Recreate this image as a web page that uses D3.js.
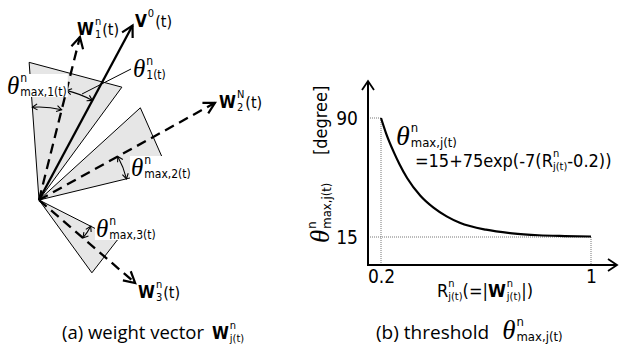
<!DOCTYPE html>
<html>
<head>
<meta charset="utf-8">
<script src="https://cdn.jsdelivr.net/npm/d3@7"></script>
<style>
body { margin: 0; background: #fff; }
svg { display: block; }
</style>
</head>
<body>
<div class="container"></div>
<script>
const WIDTH = 619;
const HEIGHT = 354;

const SANS = '"DejaVu Sans Condensed", "DejaVu Sans", sans-serif';
const SERIF = '"Liberation Serif", "DejaVu Serif", serif';
const CAPTION = '"Open Sans", "DejaVu Sans", sans-serif';

// (a) vectors: V0, W1, W2, W3 -- angle in degrees (counter-clockwise), length
const vectorAngles = [61.8, 75.9, 28.9, -40.8];
const vectorLengths = [198, 168, 201, 127];
const vectorDashed = [false, true, true, true];

// grey sectors round W1, W2, W3: the two edge angles and edge lengths
const sectorAnglesA = [94.1, 42.3, -26.9];
const sectorAnglesB = [53.7, 13.6, -54.0];
const sectorLengthsA = [138, 137, 88];
const sectorLengthsB = [140, 132, 90];

// angle arcs (theta_max,1  theta_1  theta_max,2  theta_max,3): from, to, radius
const arcFrom = [94.1, 75.9, 28.9, -40.8];
const arcTo = [75.9, 61.8, 13.6, -26.9];
const arcRadius = [93, 113, 90, 58];

// (b) threshold curve
const rValues = [0.2, 0.22, 0.25, 0.27, 0.3, 0.35, 0.4, 0.45, 0.5, 0.6, 0.7, 0.8, 0.9, 1.0];
const thetaValues = [90, 80, 68, 61, 52, 41, 33.5, 28, 24, 19.6, 17.3, 16.1, 15.6, 15.3];

const xTickValues = [0.2, 1];
const xTickLabels = ["0.2", "1"];
const yTickValues = [15, 90];

var svg = d3.select('.container').append('svg')
    .attr('width', WIDTH)
    .attr('height', HEIGHT);

var defs = svg.append('defs');

var chevron = function(id, len, half, sw) {
    defs.append('marker')
        .attr('id', id)
        .attr('viewBox', (-len - 2) + ' ' + (-half - 2) + ' ' + (len + 4) + ' ' + (2 * half + 4))
        .attr('refX', 0).attr('refY', 0)
        .attr('markerUnits', 'userSpaceOnUse')
        .attr('markerWidth', len + 4).attr('markerHeight', 2 * half + 4)
        .attr('orient', 'auto-start-reverse')
        .style('overflow', 'visible')
        .append('path')
        .attr('d', 'M' + (-len) + ',' + (-half) + 'L0,0L' + (-len) + ',' + half)
        .attr('fill', 'none')
        .attr('stroke', '#000')
        .attr('stroke-width', sw)
        .attr('stroke-linejoin', 'miter');
};
chevron('vecHead', 11, 6, 2.2);
chevron('axisHead', 9, 6, 1.8);
chevron('arcHead', 5, 3, 1.1);

// one <text> made of tspans; {sup, sub} pieces are stacked at the same x
var richText = function(parent, x, y, parts) {
    var text = parent.append('text').attr('x', x).attr('y', y);
    var cx = x;
    var span = function(str, px, py, p) {
        var s = text.append('tspan').attr('x', px).attr('y', py)
            .style('font-family', p.family || SANS)
            .style('font-size', p.size + 'px')
            .style('font-weight', p.weight || 'normal')
            .style('font-style', p.style || 'normal')
            .text(str);
        return s.node().getComputedTextLength();
    };
    parts.forEach(function(p) {
        if (p.sup !== undefined || p.sub !== undefined) {
            var w = 0;
            if (p.sup) w = Math.max(w, span(p.sup, cx, y - (p.up || 7), p));
            if (p.sub) w = Math.max(w, span(p.sub, cx, y + (p.down || 3), p));
            cx += w + (p.after === undefined ? 1 : p.after);
        } else {
            cx += span(p.t, cx, y, p) + (p.after || 0);
        }
    });
    return text;
};

var theta = function(size) {
    return {t: '\u03B8', family: SERIF, style: 'italic', size: size, after: 1};
};

// ---------- (a) weight vectors ----------
var xA = d3.scaleLinear().domain([0, 100]).range([39, 139]);
var yA = d3.scaleLinear().domain([0, 100]).range([200, 100]);
var rad = function(a) { return a * Math.PI / 180; };
var polar = function(a, r) { return [xA(r * Math.cos(rad(a))), yA(r * Math.sin(rad(a)))]; };
var origin = polar(0, 0);

var panelA = svg.append('g');

panelA.selectAll('path.sector')
    .data(sectorAnglesA.map(function(a, i) { return i; }))
    .enter().append('path')
    .attr('class', 'sector')
    .attr('d', function(i) {
        return d3.line()([origin, polar(sectorAnglesA[i], sectorLengthsA[i]), polar(sectorAnglesB[i], sectorLengthsB[i])]) + 'Z';
    })
    .attr('fill', '#e6e6e6')
    .attr('stroke', '#000')
    .attr('stroke-width', 1);

panelA.selectAll('line.vec')
    .data(vectorAngles.map(function(a, i) { return i; }))
    .enter().append('line')
    .attr('class', 'vec')
    .attr('x1', origin[0]).attr('y1', origin[1])
    .attr('x2', function(i) { return polar(vectorAngles[i], vectorLengths[i])[0]; })
    .attr('y2', function(i) { return polar(vectorAngles[i], vectorLengths[i])[1]; })
    .attr('stroke', '#000')
    .attr('stroke-width', 2.3)
    .attr('stroke-dasharray', function(i) { return vectorDashed[i] ? '10,6' : null; })
    .attr('marker-end', 'url(#vecHead)');

panelA.selectAll('path.arc')
    .data(arcFrom.map(function(a, i) { return i; }))
    .enter().append('path')
    .attr('class', 'arc')
    .attr('d', function(i) {
        var p0 = polar(arcFrom[i], arcRadius[i]);
        var p1 = polar(arcTo[i], arcRadius[i]);
        var sweep = arcTo[i] < arcFrom[i] ? 1 : 0;
        return 'M' + p0[0] + ',' + p0[1] + 'A' + arcRadius[i] + ',' + arcRadius[i] + ' 0 0 ' + sweep + ' ' + p1[0] + ',' + p1[1];
    })
    .attr('fill', 'none')
    .attr('stroke', '#000')
    .attr('stroke-width', 1.1)
    .attr('marker-start', 'url(#arcHead)')
    .attr('marker-end', 'url(#arcHead)');

// leader to theta_1 label
panelA.append('line')
    .attr('x1', 82).attr('y1', 94).attr('x2', 131).attr('y2', 69)
    .attr('stroke', '#000').attr('stroke-width', 1);

var boxed = function(t) {
    var bb = t.node().getBBox();
    panelA.insert('rect', function() { return t.node(); })
        .attr('x', bb.x - 1).attr('y', bb.y + 3)
        .attr('width', bb.width + 2).attr('height', bb.height - 5)
        .attr('fill', '#fff');
    return t;
};

var wLabel = function(x, y, sup, sub) {
    return richText(panelA, x, y, [{t: sup === '0' ? 'V' : 'W', size: 17, weight: 'bold', after: 1},
        {sup: sup, sub: sub, size: 11, up: 10, down: 3}, {t: '(t)', size: 16}]);
};
wLabel(135, 27, '0', '');
wLabel(77, 35, 'n', '1');
wLabel(219, 108, 'N', '2');
wLabel(138, 298, 'n', '3');

richText(panelA, 133, 77, [theta(25), {sup: 'n', sub: '1(t)', size: 12, up: 12, down: 2}]);
boxed(richText(panelA, 7, 94, [theta(25), {sup: 'n', sub: 'max,1(t)', size: 12, up: 12, down: 2}]));
boxed(richText(panelA, 131, 176, [theta(25), {sup: 'n', sub: 'max,2(t)', size: 12, up: 12, down: 2}]));
boxed(richText(panelA, 96, 237, [theta(25), {sup: 'n', sub: 'max,3(t)', size: 12, up: 12, down: 2}]));

// ---------- (b) threshold ----------
var xScale = d3.scaleLinear().domain([0.2, 1]).range([381, 591]);
var yScale = d3.scaleLinear().domain([15, 90]).range([237, 118]);
var AXIS_X = 368, AXIS_Y = 265;

var panelB = svg.append('g');

var dotted = [
    [[AXIS_X, yScale(90)], [xScale(0.2), yScale(90)]],
    [[xScale(0.2), yScale(90)], [xScale(0.2), AXIS_Y]],
    [[AXIS_X, yScale(15)], [xScale(1), yScale(15)]],
    [[xScale(1), yScale(15)], [xScale(1), AXIS_Y]]
];
panelB.selectAll('path.guide')
    .data(dotted).enter().append('path')
    .attr('class', 'guide')
    .attr('d', d3.line())
    .attr('stroke', '#777')
    .attr('stroke-width', 1)
    .attr('stroke-dasharray', '1,1')
    .attr('fill', 'none');

panelB.append('path')
    .attr('d', d3.line()([[AXIS_X, AXIS_Y], [AXIS_X, 81]]))
    .attr('stroke', '#000').attr('stroke-width', 2)
    .attr('marker-end', 'url(#axisHead)');
panelB.append('path')
    .attr('d', d3.line()([[AXIS_X - 1, AXIS_Y], [617, AXIS_Y]]))
    .attr('stroke', '#000').attr('stroke-width', 2)
    .attr('marker-end', 'url(#axisHead)');

var yAxis = d3.axisLeft(yScale).tickValues(yTickValues).tickSize(0).tickPadding(10);
var gy = panelB.append('g').attr('transform', 'translate(' + AXIS_X + ',0)').call(yAxis);
var xAxis = d3.axisBottom(xScale).tickValues(xTickValues)
    .tickFormat(function(d, i) { return xTickLabels[i]; }).tickSize(0).tickPadding(5);
var gx = panelB.append('g').attr('transform', 'translate(0,' + AXIS_Y + ')').call(xAxis);
[gx, gy].forEach(function(g) {
    g.select('.domain').remove();
    g.selectAll('text').style('font-family', SANS).style('font-size', '19px').attr('fill', '#000');
});

panelB.append('path')
    .datum(rValues.map(function(r, i) { return [r, thetaValues[i]]; }))
    .attr('d', d3.line()
        .x(function(d) { return xScale(d[0]); })
        .y(function(d) { return yScale(d[1]); })
        .curve(d3.curveMonotoneX))
    .attr('fill', 'none')
    .attr('stroke', '#000')
    .attr('stroke-width', 2.2);

richText(panelB, 396, 145, [theta(28), {sup: 'n', sub: 'max,j(t)', size: 13, up: 13, down: 2}]);
richText(panelB, 415, 167, [{t: '=15+75exp(-7(R', size: 18}, {sup: 'n', sub: 'j(t)', size: 11, up: 10, down: 3, after: 0}, {t: '-0.2))', size: 18}]);

var ylab = panelB.append('g').attr('transform', 'translate(329,243) rotate(-90)');
richText(ylab, 0, 0, [theta(27), {sup: 'n', sub: 'max,j(t)', size: 13, up: 13, down: 2}]);
ylab.append('text').attr('x', 88).attr('y', -2)
    .style('font-family', SANS).style('font-size', '18px').text('[degree]');

richText(panelB, 437, 297, [{t: 'R', size: 18}, {sup: 'n', sub: 'j(t)', size: 11, up: 10, down: 3, after: 0},
    {t: '(=|', size: 18}, {t: 'W', size: 18, weight: 'bold', after: 1}, {sup: 'n', sub: 'j(t)', size: 11, up: 10, down: 3, after: 0},
    {t: '|)', size: 18}]);

// ---------- captions ----------
richText(svg, 62, 339, [{t: '(a) weight vector', family: CAPTION, size: 18.5, after: 8},
    {t: 'W', size: 17, weight: 'bold', after: 1}, {sup: 'n', sub: 'j(t)', size: 11, up: 10, down: 3}]);
richText(svg, 376, 339, [{t: '(b) threshold', family: CAPTION, size: 19, after: 13},
    theta(27), {sup: 'n', sub: 'max,j(t)', size: 13, up: 13, down: 2}]);
</script>
</body>
</html>
